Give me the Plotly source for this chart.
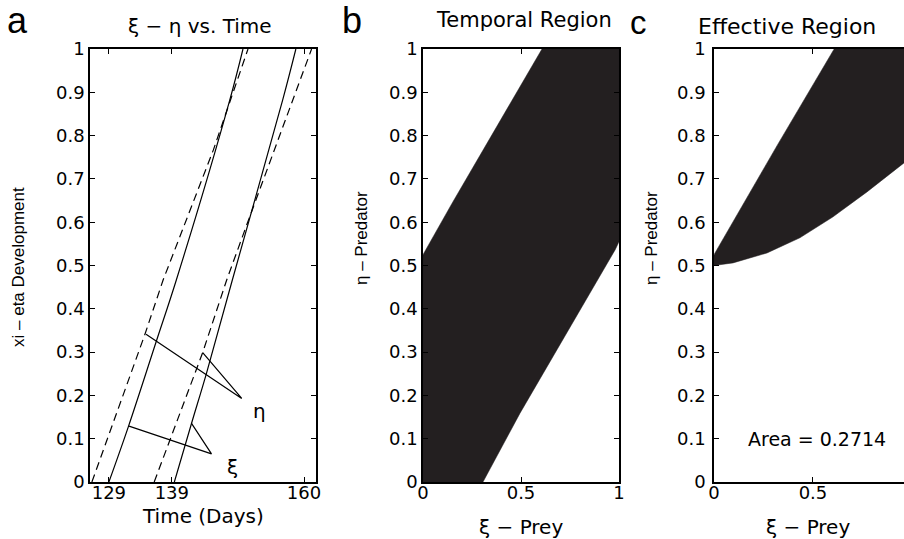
import plotly.graph_objects as go

# ---------------- data ----------------
# Panel a: development curves (time in days vs development 0..1)
xi_solid_t = [129.0, 132.1, 136.6, 139.7, 148.2, 150.3]
xi_solid_y = [0.0, 0.128, 0.328, 0.466, 0.882, 1.0]
xi_dash_t = [126.3, 134.7, 137.6, 145.6, 151.1]
xi_dash_y = [0.0, 0.34, 0.466, 0.767, 1.0]
eta_solid_t = [139.4, 142.1, 144.5, 148.6, 156.6, 158.7]
eta_solid_y = [0.0, 0.134, 0.251, 0.466, 0.882, 1.0]
eta_dash_t = [136.2, 143.9, 147.7, 150.9, 161.2]
eta_dash_y = [0.0, 0.299, 0.466, 0.594, 1.0]

# pointer lines for labels
eta_ptr_t = [134.9, 150.1, 143.9]
eta_ptr_y = [0.341, 0.193, 0.299]
xi_ptr_t = [132.2, 145.3, 142.1]
xi_ptr_y = [0.129, 0.065, 0.136]
eta_label_pos = (153.0, 0.164)
xi_label_pos = (148.6, 0.034)

time_ticks = [129, 139, 160]
dev_ticks = [0, 0.1, 0.2, 0.3, 0.4, 0.5, 0.6, 0.7, 0.8, 0.9, 1]
dev_tick_text = ["0", "0.1", "0.2", "0.3", "0.4", "0.5", "0.6", "0.7", "0.8", "0.9", "1"]

# Panel b: temporal region boundaries
upper_xi = [0.0, 0.15, 0.32, 0.607]
upper_eta = [0.525, 0.645, 0.778, 1.0]
lower_xi = [0.306, 0.495, 0.75, 0.98, 1.0]
lower_eta = [0.0, 0.159, 0.358, 0.536, 0.555]

# Panel c: effective region lower boundary
eff_lower_xi = [0.0, 0.096, 0.268, 0.434, 0.60, 0.773, 0.96, 1.0]
eff_lower_eta = [0.5, 0.506, 0.529, 0.564, 0.612, 0.670, 0.737, 0.752]
area_value = 0.2714

prey_ticks = [0, 0.5, 1]
prey_tick_text = ["0", "0.5", "1"]

FILL = "#231f20"
TICKFONT = dict(family="DejaVu Sans", size=18, color="black")

fig = go.Figure()

# ----- panel a -----
fig.add_trace(go.Scatter(x=xi_solid_t, y=xi_solid_y, mode="lines", line=dict(color="black", width=1.2, shape="spline"), xaxis="x", yaxis="y"))
fig.add_trace(go.Scatter(x=xi_dash_t, y=xi_dash_y, mode="lines", line=dict(color="black", width=1.2, dash="8px,5px"), xaxis="x", yaxis="y"))
fig.add_trace(go.Scatter(x=eta_solid_t, y=eta_solid_y, mode="lines", line=dict(color="black", width=1.2, shape="spline"), xaxis="x", yaxis="y"))
fig.add_trace(go.Scatter(x=eta_dash_t, y=eta_dash_y, mode="lines", line=dict(color="black", width=1.2, dash="8px,5px"), xaxis="x", yaxis="y"))
fig.add_trace(go.Scatter(x=eta_ptr_t, y=eta_ptr_y, mode="lines", line=dict(color="black", width=1.2), xaxis="x", yaxis="y"))
fig.add_trace(go.Scatter(x=xi_ptr_t, y=xi_ptr_y, mode="lines", line=dict(color="black", width=1.2), xaxis="x", yaxis="y"))

# ----- panel b -----
poly_b_x = [0.0] + upper_xi + [1.0] + lower_xi[::-1] + [0.0]
poly_b_y = [0.0] + upper_eta + [1.0] + lower_eta[::-1] + [0.0]
fig.add_trace(go.Scatter(x=poly_b_x, y=poly_b_y, mode="lines", fill="toself", fillcolor=FILL,
                         line=dict(color=FILL, width=0.5), xaxis="x2", yaxis="y2"))

# ----- panel c -----
poly_c_x = upper_xi + [1.0] + eff_lower_xi[::-1]
poly_c_y = upper_eta + [1.0] + eff_lower_eta[::-1]
fig.add_trace(go.Scatter(x=poly_c_x, y=poly_c_y, mode="lines", fill="toself", fillcolor=FILL,
                         line=dict(color=FILL, width=0.5), xaxis="x3", yaxis="y3"))

W, H = 904, 539
def px(x):
    return x / W
def py(y):
    return 1 - y / H

ydom = [py(482), py(49)]
common = dict(showgrid=False, zeroline=False, showline=True, linecolor="black", linewidth=1.5,
              ticks="inside", ticklen=5, tickwidth=1, tickcolor="black", tickfont=TICKFONT,
              automargin=False)

fig.update_layout(
    width=W, height=H,
    margin=dict(l=0, r=0, t=0, b=0),
    paper_bgcolor="white", plot_bgcolor="white",
    showlegend=False,
    hovermode=False,
    xaxis=dict(domain=[px(90), px(316)], range=[126.0, 161.9], tickvals=time_ticks, mirror="ticks",
               anchor="y", ticklabelstandoff=-6, **common),
    yaxis=dict(domain=ydom, range=[0, 1], tickvals=dev_ticks, ticktext=dev_tick_text, mirror="ticks", anchor="x", **common),
    xaxis2=dict(domain=[px(423), px(619)], range=[0, 1], tickvals=prey_ticks, ticktext=prey_tick_text, mirror="ticks",
                anchor="y2", ticklabelstandoff=-6, **common),
    yaxis2=dict(domain=ydom, range=[0, 1], tickvals=dev_ticks, ticktext=dev_tick_text, mirror="ticks", anchor="x2", **common),
    xaxis3=dict(domain=[px(714), px(904)], range=[0, 0.96], tickvals=prey_ticks, ticktext=prey_tick_text, mirror="ticks",
                anchor="y3", ticklabelstandoff=-6, **common),
    yaxis3=dict(domain=ydom, range=[0, 1], tickvals=dev_ticks, ticktext=dev_tick_text, mirror=False, anchor="x3",
                ticklabelstandoff=3, **common),
)

def ann(text, x, y, size, family="DejaVu Sans", angle=0, xref="paper", yref="paper"):
    fig.add_annotation(text=text, x=x, y=y, xref=xref, yref=yref, showarrow=False,
                       xanchor="center", yanchor="middle", textangle=angle,
                       font=dict(family=family, size=size, color="black"))

# panel letters
ann("a", px(17.5), py(20.4), 36, family="Liberation Sans")
ann("b", px(352), py(20.4), 36, family="Liberation Sans")
ann("c", px(638), py(23), 33, family="Liberation Sans")

# titles
ann("ξ − η vs. Time", px(200), py(26.4), 20)
ann("Temporal Region", px(524), py(20), 21)
ann("Effective Region", px(787), py(26.5), 22)

# axis titles
ann("Time (Days)", px(203), py(516), 20)
ann("ξ − Prey", px(521), py(527), 20)
ann("ξ − Prey", px(808), py(527), 20)
ann("xi – eta Development", px(18), py(267), 17, family="Liberation Sans", angle=-90)
ann("η – Predator", px(362), py(238), 17, family="Liberation Sans", angle=-90)
ann("η – Predator", px(652), py(238), 17, family="Liberation Sans", angle=-90)

# in-plot labels
ann("η", eta_label_pos[0], eta_label_pos[1], 20, xref="x", yref="y")
ann("ξ", xi_label_pos[0], xi_label_pos[1], 20, xref="x", yref="y")
ann("Area = %.4f" % area_value, 0.52, 0.10, 19, xref="x3", yref="y3")

fig.write_html("out.html", config={"displayModeBar": False},
               post_script="document.body.style.margin='0px';")
